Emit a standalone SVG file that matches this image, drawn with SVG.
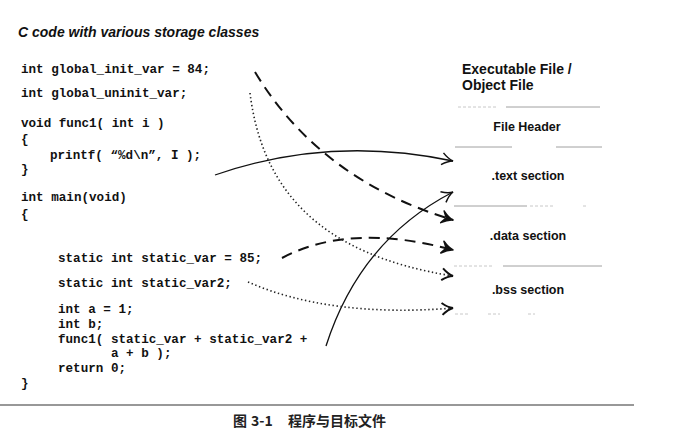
<svg xmlns="http://www.w3.org/2000/svg" width="682" height="444" viewBox="0 0 682 444">
<style>
.title{font-family:"Liberation Sans",Arial,sans-serif;font-weight:bold;font-style:italic;font-size:14px;fill:#111}
.code{font-family:"Liberation Mono","Courier New",monospace;font-weight:bold;font-size:12.6px;fill:#111;white-space:pre}
.hdr{font-family:"Liberation Sans",Arial,sans-serif;font-weight:bold;font-size:14px;fill:#111}
.sec{font-family:"Liberation Sans",Arial,sans-serif;font-weight:bold;font-size:12.5px;fill:#111;text-anchor:middle}
.sep{stroke:#a0a0a0;stroke-width:1;fill:none}
.faint{stroke:#c8c8c8;stroke-width:1;fill:none;stroke-dasharray:3 2}
.solid{stroke:#111;stroke-width:1.3;fill:none}
.dash{stroke:#111;stroke-width:2;fill:none;stroke-dasharray:11 7}
.dot{stroke:#222;stroke-width:1.6;fill:none;stroke-dasharray:1.4 2.6}
.cap{font-family:"Noto Sans CJK SC","Liberation Sans",sans-serif;font-size:14px;font-weight:bold;fill:#222}
</style>
<defs>
<marker id="hOpen" viewBox="-13 -8 15 16" refX="0" refY="0" markerWidth="15" markerHeight="16" markerUnits="userSpaceOnUse" orient="auto">
<path d="M-11,-6 Q-5,-1 0,0 Q-5,1 -11,6" fill="none" stroke="#111" stroke-width="1.5"/>
</marker>
<marker id="hBold" viewBox="-13 -8 15 16" refX="0" refY="0" markerWidth="15" markerHeight="16" markerUnits="userSpaceOnUse" orient="auto">
<path d="M-11,-6 Q-5,-1 0,0 Q-5,1 -11,6 L-7,0 Z" fill="#111" stroke="#111" stroke-width="1.6" stroke-linejoin="round"/>
</marker>
<marker id="hDot" viewBox="-13 -8 15 16" refX="0" refY="0" markerWidth="15" markerHeight="16" markerUnits="userSpaceOnUse" orient="auto">
<path d="M-11,-6 Q-5,-1 0,0 Q-5,1 -11,6" fill="none" stroke="#111" stroke-width="2"/>
</marker>
</defs>
<rect width="682" height="444" fill="#fff"/>
<text class="title" x="18" y="37">C code with various storage classes</text>
<g id="code">
<text class="code" x="21" y="73">int global_init_var = 84;</text>
<text class="code" x="21" y="97">int global_uninit_var;</text>
<text class="code" x="21" y="127">void func1( int i )</text>
<text class="code" x="21" y="143">{</text>
<text class="code" x="50" y="159">printf( “%d\n”, I );</text>
<text class="code" x="21" y="173">}</text>
<text class="code" x="21" y="201">int main(void)</text>
<text class="code" x="21" y="218">{</text>
<text class="code" x="58" y="262">static int static_var = 85;</text>
<text class="code" x="58" y="287">static int static_var2;</text>
<text class="code" x="58" y="313">int a = 1;</text>
<text class="code" x="58" y="328">int b;</text>
<text class="code" x="58" y="343">func1( static_var + static_var2 +</text>
<text class="code" x="111" y="357">a + b );</text>
<text class="code" x="58" y="372">return 0;</text>
<text class="code" x="21" y="387">}</text>
</g>
<g id="file">
<text class="hdr" x="462" y="74">Executable File /</text>
<text class="hdr" x="462" y="90">Object File</text>
<path class="faint" d="M458,107H498"/>
<path class="sep" d="M506,107H600"/>
<g id="header"><text class="sec" x="527" y="131">File Header</text></g>
<path class="sep" d="M455,147H512M556,147H602"/>
<g id="text-section"><text class="sec" x="528" y="180">.text section</text></g>
<path class="sep" d="M454,206H527"/>
<path class="faint" d="M530,206H555M583,206H588"/>
<g id="data-section"><text class="sec" x="528" y="240">.data section</text></g>
<path class="faint" d="M454,266H493"/>
<path class="sep" d="M503,266H602"/>
<g id="bss-section"><text class="sec" x="528" y="294">.bss section</text></g>
<path class="faint" d="M455,314H468M488,314H500M528,314H535"/>
</g>
<g id="connectors">
<path class="solid" d="M215,175 Q330,135 453,161" marker-end="url(#hOpen)"/>
<path class="solid" d="M326,346 Q360,240 453,192" marker-end="url(#hOpen)"/>
<path class="dash" d="M255,72 Q320,180 453,220" marker-end="url(#hBold)"/>
<path class="dash" d="M282,258 Q350,222 453,250" marker-end="url(#hBold)"/>
<path class="dot" d="M250,93 C262,190 320,255 453,276" marker-end="url(#hDot)"/>
<path class="dot" d="M248,282 C300,305 370,315 453,308" marker-end="url(#hDot)"/>
</g>
<line x1="0" y1="405" x2="634" y2="405" stroke="#333" stroke-width="1.2"/>
<g id="caption">
<text class="cap" x="233" y="426">图</text>
<text class="cap" x="251" y="426" font-size="13">3-1</text>
<text class="cap" x="288" y="426">程序与目标文件</text>
</g>
</svg>
